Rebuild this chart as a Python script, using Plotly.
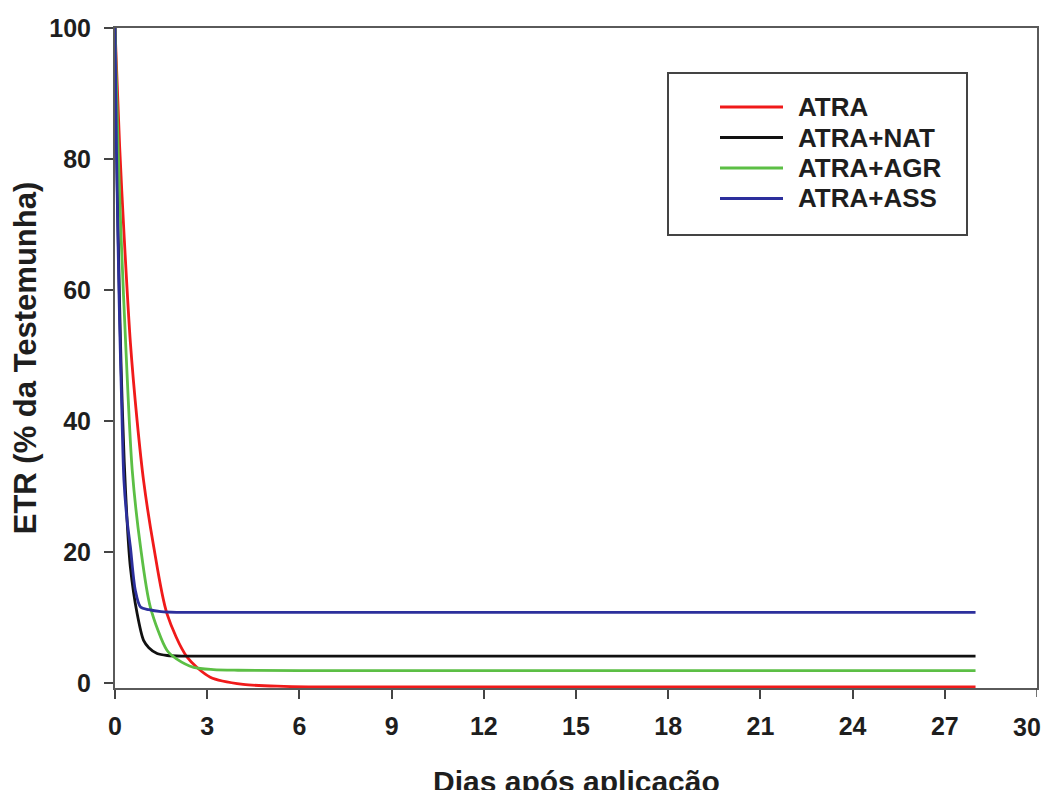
import plotly.graph_objects as go

# Days after application and ETR (% of control)
atra_x = [0, 0.15, 0.3, 0.5, 0.72, 0.93, 1.26, 1.69, 2.34, 3.1, 4.17, 5.5, 7, 28]
atra_y = [100, 82, 68, 52, 40, 30.9, 20.8, 10.6, 4.0, 0.9, -0.2, -0.5, -0.6, -0.6]

nat_x = [0, 0.05, 0.1, 0.2, 0.3, 0.4, 0.5, 0.72, 0.93, 1.1, 1.37, 1.7, 2.2, 28]
nat_y = [100, 83, 69, 48, 33.8, 24.2, 17.7, 10.6, 6.5, 5.4, 4.5, 4.2, 4.1, 4.1]

agr_x = [0, 0.1, 0.2, 0.36, 0.56, 0.83, 1.15, 1.69, 2.0, 2.56, 3.2, 4, 6, 28]
agr_y = [100, 82, 68, 50.5, 32.5, 20.8, 11.6, 5.0, 3.7, 2.4, 2.05, 1.95, 1.9, 1.9]

ass_x = [0, 0.05, 0.1, 0.15, 0.21, 0.29, 0.39, 0.5, 0.66, 0.83, 1.1, 1.5, 2, 28]
ass_y = [100, 81, 67, 55, 44, 31, 25, 20.8, 14.2, 11.6, 11.2, 10.9, 10.8, 10.8]

names = ["ATRA", "ATRA+NAT", "ATRA+AGR", "ATRA+ASS"]
colors = ["#f01a1a", "#111111", "#5cbf45", "#2c2f9c"]

x_ticks = [0, 3, 6, 9, 12, 15, 18, 21, 24, 27, 30]
y_ticks = [0, 20, 40, 60, 80, 100]

x_title = "Dias após aplicação"
y_title = "ETR (% da Testemunha)"

FONT = "Arial, 'Liberation Sans', sans-serif"
TXT = "#1e1e1e"

fig = go.Figure()
series = [(atra_x, atra_y), (nat_x, nat_y), (agr_x, agr_y), (ass_x, ass_y)]
for (xs, ys), name, col in zip(series, names, colors):
    fig.add_trace(go.Scatter(
        x=xs, y=ys, mode="lines", name=name, showlegend=False,
        line=dict(color=col, width=2.8, shape="spline", smoothing=0.8),
    ))

axis_common = dict(
    showline=True, linecolor="#5a5a5a", linewidth=2, mirror=True,
    ticks="outside", ticklen=9, tickwidth=1.5, tickcolor="#444",
    showgrid=False, zeroline=False, automargin=False,
    tickfont=dict(family=FONT, size=25, color=TXT, weight="bold"),
)

# Legend drawn manually: frame, line samples and labels
plot_l, plot_r, plot_t, plot_b = 115, 1037, 28, 688   # page pixels of plot area
def px_x(p):
    return (p - plot_l) / (plot_r - plot_l)
def px_y(p):
    return (plot_b - p) / (plot_b - plot_t)

fig.add_shape(type="rect", xref="paper", yref="paper",
              x0=px_x(668), x1=px_x(967), y0=px_y(235), y1=px_y(73),
              line=dict(color="#444", width=2), fillcolor="white", layer="below")
for i, (name, col) in enumerate(zip(names, colors)):
    yc = px_y(107 + i * 30.5)
    fig.add_shape(type="line", xref="paper", yref="paper",
                  x0=px_x(720), x1=px_x(783), y0=yc, y1=yc,
                  line=dict(color=col, width=2.8))
    fig.add_annotation(xref="paper", yref="paper", x=px_x(796), y=yc,
                       xanchor="left", yanchor="middle", showarrow=False,
                       text=name, font=dict(family=FONT, size=26, color=TXT, weight="bold"))

# last x tick label sits at the right edge of the page; keep it inside the figure
fig.add_annotation(xref="paper", yref="paper", x=1.0, y=px_y(727),
                   xanchor="right", yanchor="middle", xshift=6, showarrow=False,
                   text=str(x_ticks[-1]), font=dict(family=FONT, size=25, color=TXT, weight="bold"))

# x axis title placed as in the original (lower than plotly's default slot)
fig.add_annotation(xref="paper", yref="paper", x=0.5, y=px_y(781),
                   xanchor="center", yanchor="middle", showarrow=False,
                   text=x_title, font=dict(family=FONT, size=30, color=TXT, weight="bold"))

fig.update_layout(
    width=1038, height=782,
    margin=dict(l=107, r=9, t=20, b=102),
    plot_bgcolor="white", paper_bgcolor="white",
    xaxis=dict(range=[0, 30], tickvals=x_ticks[:-1], ticktext=[str(v) for v in x_ticks[:-1]],
               ticklabelstandoff=6, **axis_common),
    yaxis=dict(range=[-0.76, 100], tickvals=y_ticks, ticktext=[str(v) for v in y_ticks],
               title=dict(text=y_title, standoff=8,
                          font=dict(family=FONT, size=31, color=TXT, weight="bold")),
               ticklabelstandoff=8, **axis_common),
    showlegend=False,
)
# tick mark for the last x value (label given by the annotation above)
fig.add_shape(type="line", xref="x", yref="paper", x0=x_ticks[-1], x1=x_ticks[-1],
              y0=0, y1=-9 / 660, line=dict(color="#444", width=1.5))

fig.write_html("out.html")
